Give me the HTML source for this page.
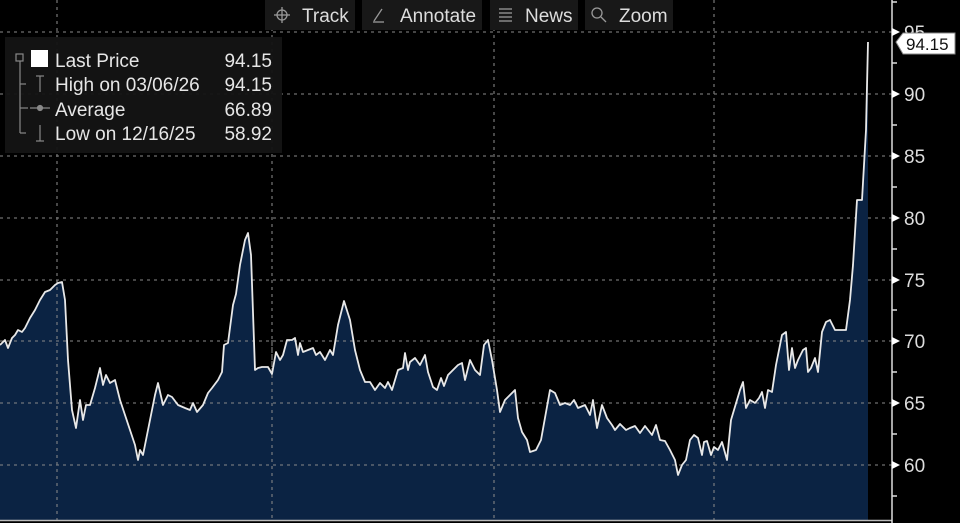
<!DOCTYPE html>
<html><head><meta charset="utf-8"><style>
body{margin:0;background:#000;width:960px;height:523px;overflow:hidden;font-family:"Liberation Sans",sans-serif}
</style></head><body>
<svg width="960" height="523" xmlns="http://www.w3.org/2000/svg" style="position:absolute;left:0;top:0">
<rect width="960" height="523" fill="#000"/>
<g stroke="#8a8a8a" stroke-width="1.3" stroke-dasharray="3,4" opacity="0.8">
<line x1="0" y1="32" x2="892" y2="32"/><line x1="0" y1="94" x2="892" y2="94"/><line x1="0" y1="156" x2="892" y2="156"/><line x1="0" y1="218" x2="892" y2="218"/><line x1="0" y1="280" x2="892" y2="280"/>
<line x1="57" y1="0" x2="57" y2="520"/><line x1="272" y1="0" x2="272" y2="520"/><line x1="494" y1="0" x2="494" y2="520"/><line x1="714" y1="0" x2="714" y2="520"/>
</g>
<path id="p" fill="#0b2343" stroke="none" d="M0,345 L5,340 8,348 12,338 15,335 18,330 22,332 25,328 30,318 35,310 40,300 45,292 50,290 55,285 58,283 62,282 65,300 68,360 72,410 76,428 80,400 83,420 86,405 90,405 95,388 100,368 103,385 106,375 110,383 115,380 120,400 125,415 130,430 135,445 138,460 140,450 143,455 148,430 155,395 158,383 163,405 168,395 172,397 178,405 185,408 190,410 193,403 197,412 203,405 208,393 212,388 218,380 222,372 224,345 228,343 233,305 236,294 240,265 245,240 248,233 251,255 255,370 258,368 262,367 268,367 272,374 276,352 280,360 283,355 287,340 292,340 295,338 298,355 300,343 303,352 308,350 313,348 316,355 320,352 325,360 330,350 333,355 338,325 344,301 350,320 355,350 360,370 365,382 370,382 375,390 380,383 385,388 388,382 392,390 398,370 403,368 405,353 408,370 410,362 415,358 420,365 425,355 428,372 433,387 437,390 441,378 444,386 448,375 453,370 458,365 462,363 465,380 470,360 475,370 480,375 484,345 488,340 492,360 497,390 500,412 505,400 510,395 515,390 518,418 522,432 527,440 530,452 536,450 541,440 550,390 555,393 560,405 565,403 570,405 574,400 578,408 585,405 590,415 593,400 597,428 602,405 607,418 612,425 615,430 620,424 626,430 630,428 635,426 640,433 645,426 652,435 656,425 660,440 665,441 670,450 675,460 678,475 682,465 686,460 690,440 694,435 698,438 702,455 704,442 707,441 711,455 714,447 718,450 722,442 727,460 731,420 740,390 743,382 746,408 750,400 755,403 759,398 762,392 765,408 768,390 772,392 776,365 779,350 782,335 786,332 789,370 792,348 795,368 798,360 803,350 806,348 808,372 811,368 815,358 818,372 822,332 826,322 830,320 835,330 840,330 846,330 850,300 853,265 857,200 862,200 866,130 868,42 868,520 0,520 Z"/>
<g stroke="#8a8a8a" stroke-width="1.3" stroke-dasharray="3,4" opacity="0.8">
<line x1="0" y1="341" x2="892" y2="341"/><line x1="0" y1="403" x2="892" y2="403"/><line x1="0" y1="465" x2="892" y2="465"/>
<line x1="57" y1="280" x2="57" y2="520"/><line x1="272" y1="340" x2="272" y2="520"/><line x1="494" y1="340" x2="494" y2="520"/><line x1="714" y1="420" x2="714" y2="520"/>
</g>
<path fill="none" stroke="#e8e8e8" stroke-width="1.8" stroke-linejoin="round" d="M0,345 L5,340 8,348 12,338 15,335 18,330 22,332 25,328 30,318 35,310 40,300 45,292 50,290 55,285 58,283 62,282 65,300 68,360 72,410 76,428 80,400 83,420 86,405 90,405 95,388 100,368 103,385 106,375 110,383 115,380 120,400 125,415 130,430 135,445 138,460 140,450 143,455 148,430 155,395 158,383 163,405 168,395 172,397 178,405 185,408 190,410 193,403 197,412 203,405 208,393 212,388 218,380 222,372 224,345 228,343 233,305 236,294 240,265 245,240 248,233 251,255 255,370 258,368 262,367 268,367 272,374 276,352 280,360 283,355 287,340 292,340 295,338 298,355 300,343 303,352 308,350 313,348 316,355 320,352 325,360 330,350 333,355 338,325 344,301 350,320 355,350 360,370 365,382 370,382 375,390 380,383 385,388 388,382 392,390 398,370 403,368 405,353 408,370 410,362 415,358 420,365 425,355 428,372 433,387 437,390 441,378 444,386 448,375 453,370 458,365 462,363 465,380 470,360 475,370 480,375 484,345 488,340 492,360 497,390 500,412 505,400 510,395 515,390 518,418 522,432 527,440 530,452 536,450 541,440 550,390 555,393 560,405 565,403 570,405 574,400 578,408 585,405 590,415 593,400 597,428 602,405 607,418 612,425 615,430 620,424 626,430 630,428 635,426 640,433 645,426 652,435 656,425 660,440 665,441 670,450 675,460 678,475 682,465 686,460 690,440 694,435 698,438 702,455 704,442 707,441 711,455 714,447 718,450 722,442 727,460 731,420 740,390 743,382 746,408 750,400 755,403 759,398 762,392 765,408 768,390 772,392 776,365 779,350 782,335 786,332 789,370 792,348 795,368 798,360 803,350 806,348 808,372 811,368 815,358 818,372 822,332 826,322 830,320 835,330 840,330 846,330 850,300 853,265 857,200 862,200 866,130 868,42"/>
<line x1="0" y1="520.5" x2="892" y2="520.5" stroke="#bbb" stroke-width="1.5"/>
<line x1="892" y1="0" x2="892" y2="523" stroke="#ddd" stroke-width="1.5"/>
<g fill="#fff">
<path d="M892,28 L900,32 892,36Z"/><path d="M892,90 L900,94 892,98Z"/><path d="M892,152 L900,156 892,160Z"/><path d="M892,214 L900,218 892,222Z"/><path d="M892,276 L900,280 892,284Z"/><path d="M892,337 L900,341 892,345Z"/><path d="M892,399 L900,403 892,407Z"/><path d="M892,461 L900,465 892,469Z"/>
</g>
<g stroke="#ddd" stroke-width="1.5">
<line x1="892" y1="63" x2="897" y2="63"/><line x1="892" y1="125" x2="897" y2="125"/><line x1="892" y1="187" x2="897" y2="187"/><line x1="892" y1="249" x2="897" y2="249"/><line x1="892" y1="310" x2="897" y2="310"/><line x1="892" y1="372" x2="897" y2="372"/><line x1="892" y1="434" x2="897" y2="434"/><line x1="892" y1="496" x2="897" y2="496"/><line x1="892" y1="2" x2="897" y2="2"/>
</g>
<g fill="#ddd" font-size="19" font-family="Liberation Sans,sans-serif">
<text x="904" y="39">95</text><text x="904" y="101">90</text><text x="904" y="163">85</text><text x="904" y="225">80</text><text x="904" y="287">75</text><text x="904" y="348">70</text><text x="904" y="410">65</text><text x="904" y="472">60</text>
</g>
<path d="M896,42 L903,33 L955,33 L955,54 L903,54 Z" fill="#fff" stroke="#888"/>
<text x="906" y="50" font-size="17" fill="#111">94.15</text>
<g fill="#181818"><rect x="265" y="0" width="90" height="30"/><rect x="362" y="0" width="120" height="30"/><rect x="490" y="0" width="88" height="30"/><rect x="585" y="0" width="88" height="30"/></g>
<g fill="#ddd" font-size="19"><text x="302" y="22">Track</text><text x="400" y="22">Annotate</text><text x="525" y="22">News</text><text x="619" y="22">Zoom</text></g>
<g stroke="#999" stroke-width="1.3" fill="none"><circle cx="282" cy="15" r="5"/><line x1="274" y1="15" x2="290" y2="15"/><line x1="282" y1="7" x2="282" y2="23"/>
<line x1="373" y1="22" x2="384" y2="22"/><line x1="374" y1="21" x2="382" y2="9"/>
<line x1="499" y1="9" x2="512" y2="9"/><line x1="499" y1="13" x2="512" y2="13"/><line x1="499" y1="17" x2="512" y2="17"/><line x1="499" y1="21" x2="512" y2="21"/>
<circle cx="597" cy="13" r="5"/><line x1="601" y1="17" x2="606" y2="22"/></g>
<rect x="5" y="37" width="277" height="116" fill="#141414" opacity="0.95"/>
<rect x="31" y="50" width="17" height="17" fill="#fff"/>
<g stroke="#888" stroke-width="1.2" fill="none"><rect x="16" y="54" width="7" height="7"/><line x1="20" y1="61" x2="20" y2="133"/><line x1="20" y1="84" x2="26" y2="84"/><line x1="20" y1="108" x2="28" y2="108"/><line x1="20" y1="133" x2="26" y2="133"/>
<line x1="40" y1="76" x2="40" y2="92"/><line x1="36" y1="76" x2="44" y2="76"/><line x1="30" y1="108" x2="50" y2="108"/><circle cx="40" cy="108" r="2.5" fill="#888"/><line x1="40" y1="125" x2="40" y2="141"/><line x1="36" y1="141" x2="44" y2="141"/></g>
<g fill="#e6e6e6" font-size="19"><text x="55" y="67">Last Price</text><text x="55" y="91">High on 03/06/26</text><text x="55" y="116">Average</text><text x="55" y="140">Low on 12/16/25</text>
<text x="272" y="67" text-anchor="end">94.15</text><text x="272" y="91" text-anchor="end">94.15</text><text x="272" y="116" text-anchor="end">66.89</text><text x="272" y="140" text-anchor="end">58.92</text></g>
</svg>
</body></html>
